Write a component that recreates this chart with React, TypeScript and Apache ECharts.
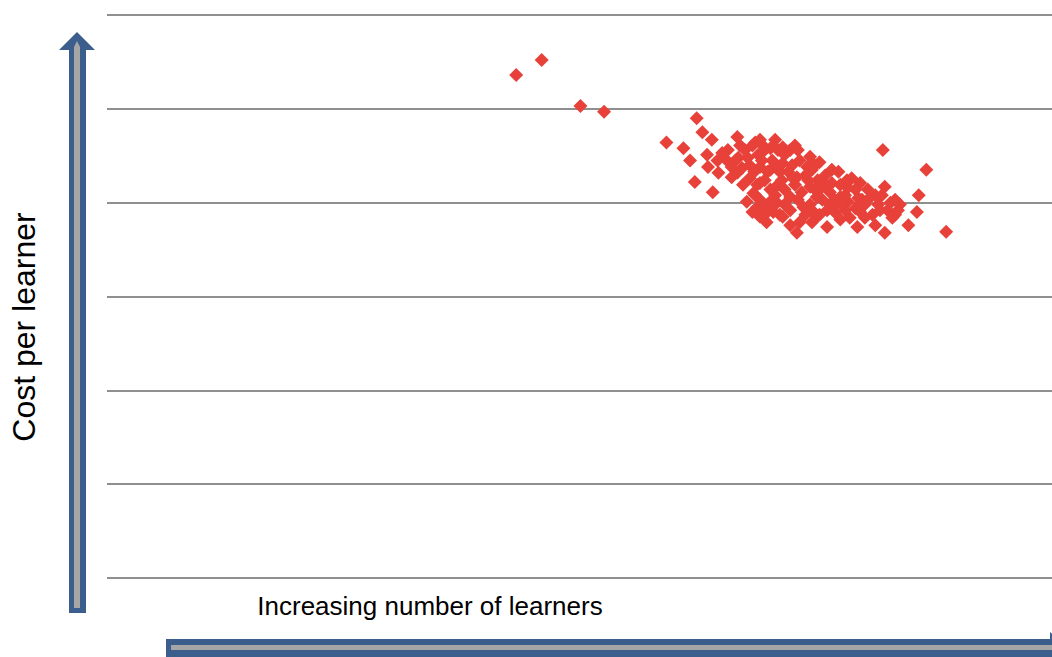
import React, { useEffect, useRef } from "react";
import * as echarts from "echarts";

// Number of learners (x) and cost per learner (y)
const learners: number[] = [
  433, 460, 501, 526, 592, 610, 624, 630, 617, 622, 641, 667, 640, 635, 646, 651, 656, 636, 647, 661, 661, 667, 668, 677, 683, 673,
  686, 694, 715, 744, 741, 774, 783, 730, 715, 702, 691, 723, 751, 776, 694, 709, 737, 762, 751, 730, 762, 715, 688, 684,
  821, 867, 859, 857, 848, 888, 823, 813, 794, 788, 797, 813, 823, 834, 839, 826, 802, 792, 784, 816, 831, 810,
  675, 680, 689, 696, 704, 710, 717, 725, 733, 739, 746, 752, 760, 767, 776, 680, 688, 696, 702, 710, 717, 728, 735, 744,
  754, 765, 772, 781, 691, 699, 707, 723, 731, 744, 754, 770, 781, 786, 696, 705, 723, 739, 746, 776, 799, 805, 818, 829,
  834, 802, 670, 665, 672, 691, 699, 712, 723, 731, 691, 707, 770, 792,
  678, 693, 708, 721, 685, 714, 726, 742, 749, 761, 757, 765, 746, 717, 704, 686, 712, 733, 778, 795, 807, 820, 837, 797,
  749, 728, 702, 683, 657, 754, 767, 784, 698, 691,
];
const costPerLearner: number[] = [
  53.6, 55.2, 50.3, 49.7, 46.4, 45.8, 49.0, 47.5, 44.5, 42.2, 41.1, 47.0, 46.7, 45.1, 44.5, 45.3, 44.5, 43.8, 43.2, 43.8, 42.7, 43.2, 44.8, 40.1, 39.0, 41.9,
  46.4, 46.1, 45.9, 44.9, 43.8, 43.3, 42.4, 42.7, 44.2, 43.5, 42.1, 40.6, 40.6, 40.6, 39.2, 40.0, 39.5, 39.2, 38.5, 36.8, 37.4, 38.5, 39.5, 41.0,
  45.6, 43.5, 40.8, 39.0, 37.6, 36.9, 36.8, 37.6, 37.4, 42.6, 42.1, 40.8, 41.7, 40.3, 39.8, 39.2, 39.8, 39.4, 40.1, 39.8, 38.4, 38.7,
  45.6, 44.0, 45.1, 45.6, 44.5, 45.6, 45.1, 44.0, 44.5, 42.9, 43.5, 42.4, 42.9, 42.1, 41.9, 42.6, 41.9, 42.4, 41.4, 41.9, 41.4, 41.9, 41.1, 41.7,
  41.4, 41.1, 39.8, 40.8, 40.3, 39.8, 40.8, 39.2, 40.3, 39.8, 38.7, 39.0, 39.2, 38.4, 38.7, 39.0, 37.6, 38.7, 37.9, 38.2, 40.3, 41.4, 39.2, 40.0,
  38.7, 38.4, 46.1, 44.5, 43.7, 43.8, 43.3, 43.3, 45.6, 45.6, 46.7, 46.7, 40.3, 41.4,
  44.8, 44.5, 44.0, 43.3, 43.3, 42.4, 42.6, 42.4, 41.4, 41.9, 40.3, 39.8, 39.2, 39.8, 40.3, 40.8, 38.7, 37.9, 39.8, 40.5, 40.5, 40.8, 39.2, 39.0,
  44.0, 46.1, 45.8, 46.1, 45.6, 44.3, 43.5, 41.6, 37.9, 38.5,
];

const yTicks: number[] = [0, 10, 20, 30, 40, 50, 60];
const xTitle = "Increasing number of learners";
const yTitle = "Cost per learner";

const BLUE = "#3B5E8D";
const GRAY = "#A6A6A6";

export default function App() {
  const ref = useRef<HTMLDivElement>(null);
  useEffect(() => {
    if (!ref.current) return;
    const chart = echarts.init(ref.current, undefined, { renderer: "svg" });
    const points = learners.map((x, i) => [x, costPerLearner[i]]);
    chart.setOption({
      animation: false,
      grid: { left: 107, right: 0, top: 15, bottom: 79 },
      xAxis: {
        type: "value",
        min: 0,
        max: 1000,
        axisLine: { show: false },
        axisTick: { show: false },
        axisLabel: { show: false },
        splitLine: { show: false },
      },
      yAxis: {
        type: "value",
        min: yTicks[0],
        max: yTicks[yTicks.length - 1],
        interval: 10,
        axisLine: { show: false },
        axisTick: { show: false },
        axisLabel: { show: false },
        splitLine: { show: true, lineStyle: { color: "#8F8F8F", width: 2 } },
      },
      series: [
        {
          type: "scatter",
          symbol: "diamond",
          symbolSize: 14,
          itemStyle: { color: "#E8413A", opacity: 1 },
          data: points,
        },
      ],
      graphic: [
        // vertical arrow
        {
          type: "polygon",
          shape: {
            points: [
              [69, 613], [86, 613], [86, 50], [95, 50], [77, 32], [59, 50], [69, 50],
            ],
          },
          style: { fill: BLUE },
        },
        {
          type: "polygon",
          shape: { points: [[74, 608], [80, 608], [80, 47], [77, 41], [74, 47]] },
          style: { fill: GRAY },
        },
        // horizontal arrow
        {
          type: "polygon",
          shape: {
            points: [
              [166, 639], [1050, 639], [1050, 632], [1068, 648], [1050, 664], [1050, 657], [166, 657],
            ],
          },
          style: { fill: BLUE },
        },
        {
          type: "rect",
          shape: { x: 171, y: 645, width: 900, height: 5 },
          style: { fill: GRAY },
        },
        {
          type: "text",
          x: 430,
          y: 606,
          style: {
            text: xTitle,
            font: '26px "Liberation Sans", Arial, sans-serif',
            fill: "#000",
            align: "center",
            verticalAlign: "middle",
          },
        },
        {
          type: "text",
          x: 24,
          y: 327,
          rotation: Math.PI / 2,
          style: {
            text: yTitle,
            font: '32px "Liberation Sans", Arial, sans-serif',
            fill: "#000",
            align: "center",
            verticalAlign: "middle",
          },
        },
      ],
    });
    return () => chart.dispose();
  }, []);
  return (
    <div
      ref={ref}
      style={{ position: "fixed", left: 0, top: 0, width: 1052, height: 657, background: "#fff" }}
    />
  );
}
